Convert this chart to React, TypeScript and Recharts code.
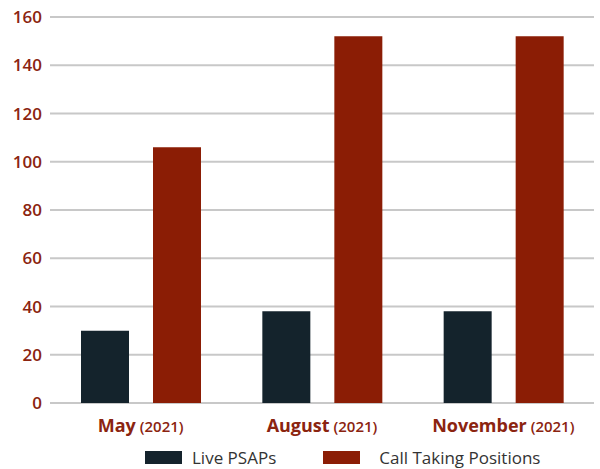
import { Bar, BarChart, CartesianGrid, Legend, XAxis, YAxis } from "recharts"

if (typeof document !== "undefined") document.body.style.margin = "0"

const months = ["May", "August", "November"]
const years = ["2021", "2021", "2021"]
const livePsaps = [30, 38, 38]
const callTakingPositions = [106, 152, 152]
const yTicks = [0, 20, 40, 60, 80, 100, 120, 140, 160]

const DARK = "#14232c"
const RED = "#8b1d05"
const LABEL = "#8b2410"

const data = months.map((m, i) => ({
  month: m,
  year: years[i],
  live: livePsaps[i],
  calls: callTakingPositions[i],
}))

const MonthTick = (props: any) => {
  const { x, y, payload, index } = props
  return (
    <text x={x} y={y + 21} textAnchor="middle" fill={LABEL} fontFamily="Open Sans">
      <tspan fontSize={18} fontWeight={700}>{payload.value}</tspan>
      <tspan fontSize={15} fontWeight={600}>{` (${years[index]})`}</tspan>
    </text>
  )
}

const LegendContent = () => (
  <div
    style={{
      display: "flex",
      alignItems: "center",
      height: 30,
      paddingTop: 7,
      boxSizing: "border-box",
      fontFamily: "Open Sans",
      fontSize: 17,
      color: "#333",
      paddingLeft: 145,
    }}
  >
    <span style={{ width: 37, height: 13, background: DARK, display: "inline-block", marginRight: 10 }} />
    <span style={{ marginRight: 47 }}>Live PSAPs</span>
    <span style={{ width: 37, height: 13, background: RED, display: "inline-block", marginRight: 19 }} />
    <span>Call Taking Positions</span>
  </div>
)

export default function App() {
  return (
    <div style={{ width: 600, height: 469, background: "#fff" }}>
      <BarChart
        width={600}
        height={469}
        data={data}
        margin={{ top: 17, right: 6, left: 0, bottom: 0 }}
        barSize={48}
        barGap={24}
        barCategoryGap={30}
      >
        <CartesianGrid vertical={false} stroke="#c8c8c8" strokeWidth={2} />
        <XAxis dataKey="month" axisLine={false} tickLine={false} height={36} tick={<MonthTick />} interval={0} />
        <YAxis
          width={50}
          domain={[0, 160]}
          ticks={yTicks}
          axisLine={false}
          tickLine={false}
          tick={{ fill: LABEL, fontSize: 17, fontWeight: 600, fontFamily: "Open Sans" }}
        />
        <Legend verticalAlign="bottom" height={30} content={<LegendContent />} />
        <Bar dataKey="live" name="Live PSAPs" fill={DARK} isAnimationActive={false} />
        <Bar dataKey="calls" name="Call Taking Positions" fill={RED} isAnimationActive={false} />
      </BarChart>
    </div>
  )
}
